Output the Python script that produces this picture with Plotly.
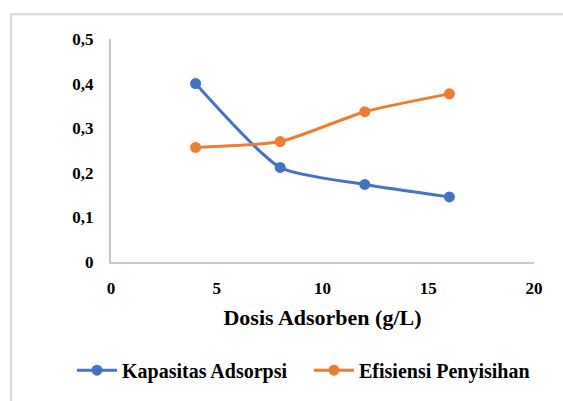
import plotly.graph_objects as go

dosis = [4, 8, 12, 16]
kapasitas = [0.400, 0.212, 0.174, 0.146]
efisiensi = [0.257, 0.270, 0.337, 0.377]
x_ticks = [0, 5, 10, 15, 20]
y_ticks = [0, 0.1, 0.2, 0.3, 0.4, 0.5]
y_labels = ["0", "0,1", "0,2", "0,3", "0,4", "0,5"]

FONT = "Liberation Serif, Times New Roman, serif"
BLUE = "#4472C4"
ORANGE = "#ED7D31"

fig = go.Figure()
fig.add_trace(go.Scatter(x=dosis, y=kapasitas, name="Kapasitas Adsorpsi", mode="lines+markers",
                         line=dict(color=BLUE, width=3, shape="spline", smoothing=0.6),
                         marker=dict(color=BLUE, size=11)))
fig.add_trace(go.Scatter(x=dosis, y=efisiensi, name="Efisiensi Penyisihan", mode="lines+markers",
                         line=dict(color=ORANGE, width=3, shape="spline", smoothing=0.6),
                         marker=dict(color=ORANGE, size=11)))

fig.update_layout(
    width=563, height=401,
    margin=dict(l=111, r=29, t=39, b=136),
    paper_bgcolor="white", plot_bgcolor="white",
    font=dict(family=FONT, size=17, color="black", weight="bold"),
    showlegend=True,
    legend=dict(orientation="h", x=-0.0922, xanchor="left", y=-0.485, yanchor="middle",
                font=dict(family=FONT, size=20, color="black", weight="bold"),
                itemwidth=40, tracegroupgap=0, borderwidth=0,
                entrywidth=182, entrywidthmode="pixels"),
    xaxis=dict(range=[0, 20], tickvals=x_ticks, showgrid=False, zeroline=False,
               showline=True, linecolor="#c8c8c8", linewidth=2,
               ticks="outside", ticklen=10, tickcolor="rgba(0,0,0,0)",
               tickfont=dict(family=FONT, size=17, weight="bold"),
               automargin=False,
               title=dict(text="Dosis Adsorben (g/L)", standoff=12,
                          font=dict(family=FONT, size=22, weight="bold"))),
    yaxis=dict(range=[0, 0.5], tickvals=y_ticks, ticktext=y_labels, showgrid=False, zeroline=False,
               showline=True, linecolor="#c8c8c8", linewidth=2,
               ticks="outside", ticklen=12, tickcolor="rgba(0,0,0,0)",
               tickfont=dict(family=FONT, size=17, weight="bold"),
               automargin=False),
    shapes=[dict(type="rect", xref="paper", yref="paper",
                 x0=-0.2364, x1=1.09, y0=-0.63, y1=1.1106,
                 line=dict(color="#d9d9d9", width=2), fillcolor="rgba(0,0,0,0)", layer="below")],
)

fig.write_html("out.html", config={"displayModeBar": False},
               post_script="document.body.style.margin='0';")
